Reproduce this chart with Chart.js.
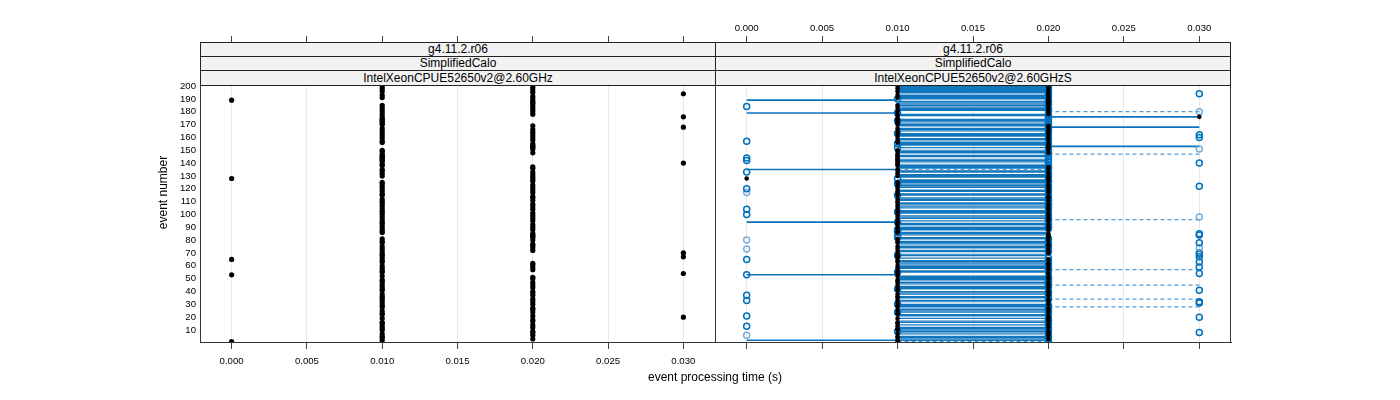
<!DOCTYPE html>
<html>
<head>
<meta charset="utf-8">
<script src="https://cdn.jsdelivr.net/npm/chart.js"></script>
<style>
  html, body { margin:0; padding:0; background:#fff; }
  #root { position:relative; width:1400px; height:400px; overflow:hidden; font-family:'Liberation Sans', Arial, Helvetica, sans-serif; }
  canvas { position:absolute; top:0; }
  .strip { position:absolute; box-sizing:border-box; border:1px solid #222; background:#f2f2f2;
           text-align:center; font-size:12px; color:#000; white-space:nowrap; z-index:5; }
  .xtitle { position:absolute; left:0; width:1430px; top:370px; text-align:center; font-size:12px; color:#000; }
</style>
</head>
<body>
<div id="root">
  <canvas id="left" width="720" height="400" style="left:0"></canvas>
  <canvas id="right" width="700" height="400" style="left:700px"></canvas>

  <div class="strip" style="left:200px;top:42px;width:516px;height:15px;line-height:13px">g4.11.2.r06</div>
  <div class="strip" style="left:200px;top:56px;width:516px;height:15px;line-height:13px">SimplifiedCalo</div>
  <div class="strip" style="left:200px;top:70px;width:516px;height:16px;line-height:14px">IntelXeonCPUE52650v2@2.60GHz</div>

  <div class="strip" style="left:715px;top:42px;width:516px;height:15px;line-height:13px">g4.11.2.r06</div>
  <div class="strip" style="left:715px;top:56px;width:516px;height:15px;line-height:13px">SimplifiedCalo</div>
  <div class="strip" style="left:715px;top:70px;width:516px;height:16px;line-height:14px">IntelXeonCPUE52650v2@2.60GHzS</div>

  <div class="xtitle">event processing time (s)</div>
</div>
<script>
// ---------------- data ----------------
const xTicks = [0, 0.005, 0.01, 0.015, 0.02, 0.025, 0.03];
const yTicks = [10, 20, 30, 40, 50, 60, 70, 80, 90, 100, 110, 120, 130, 140, 150, 160, 170, 180, 190, 200];

// reference run: event processing time (s) for events 1..200 (left panel, black dots)
const refTime = [
  0, 0.01, 0.02, 0.01, 0.01, 0.02, 0.01, 0.02, 0.02, 0.01,
  0.01, 0.02, 0.01, 0.02, 0.01, 0.01, 0.02, 0.02, 0.01, 0.03,
  0.02, 0.01, 0.01, 0.02, 0.01, 0.02, 0.02, 0.01, 0.01, 0.02,
  0.01, 0.02, 0.01, 0.02, 0.01, 0.01, 0.02, 0.01, 0.02, 0.02,
  0.01, 0.01, 0.02, 0.01, 0.02, 0.01, 0.02, 0.01, 0.01, 0.02,
  0.02, 0.01, 0, 0.03, 0.01, 0.01, 0.02, 0.01, 0.02, 0.01,
  0.02, 0.02, 0.01, 0.01, 0, 0.01, 0.03, 0.01, 0.01, 0.03,
  0.01, 0.02, 0.01, 0.02, 0.01, 0.02, 0.02, 0.01, 0.01, 0.02,
  0.01, 0.02, 0.02, 0.02, 0.02, 0.01, 0.01, 0.02, 0.01, 0.02,
  0.01, 0.02, 0.01, 0.01, 0.02, 0.01, 0.02, 0.01, 0.02, 0.01,
  0.02, 0.01, 0.01, 0.02, 0.01, 0.02, 0.01, 0.02, 0.01, 0.01,
  0.02, 0.01, 0.02, 0.02, 0.01, 0.01, 0.02, 0.01, 0.02, 0.01,
  0.02, 0.01, 0.02, 0.01, 0.01, 0.02, 0.02, 0, 0.02, 0.01,
  0.02, 0.01, 0.02, 0.01, 0.01, 0.02, 0.02, 0.01, 0.01, 0.03,
  0.01, 0.01, 0.01, 0.01, 0.01, 0.01, 0.01, 0.02, 0.01, 0.01,
  0.02, 0.02, 0.02, 0.02, 0.02, 0.01, 0.01, 0.02, 0.01, 0.02,
  0.01, 0.02, 0.01, 0.02, 0.01, 0.02, 0.01, 0.03, 0.02, 0.01,
  0.01, 0.01, 0.01, 0.01, 0.01, 0.03, 0.01, 0.02, 0.01, 0.02,
  0.01, 0.02, 0.01, 0.02, 0.01, 0.02, 0.02, 0.02, 0, 0.02,
  0.01, 0.02, 0.01, 0.03, 0.02, 0.01, 0.02, 0.01, 0.02, 0.01
];

// right panel reference dots (black), events 1..200
const rightRefTime = [
  0.01, 0.01, 0.02, 0.01, 0.01, 0.02, 0.01, 0.02, 0.02, 0.01,
  0.01, 0.02, 0.01, 0.02, 0.01, 0.01, 0.02, 0.02, 0.01, 0.02,
  0.02, 0.01, 0.01, 0.02, 0.01, 0.02, 0.02, 0.01, 0.01, 0.02,
  0.01, 0.02, 0.01, 0.02, 0.01, 0.01, 0.02, 0.01, 0.02, 0.02,
  0.01, 0.01, 0.02, 0.01, 0.02, 0.01, 0.02, 0.01, 0.01, 0.02,
  0.02, 0.01, 0.01, 0.02, 0.01, 0.01, 0.02, 0.01, 0.02, 0.01,
  0.02, 0.02, 0.01, 0.01, 0.02, 0.01, 0.01, 0.01, 0.01, 0.02,
  0.01, 0.02, 0.01, 0.02, 0.01, 0.02, 0.02, 0.01, 0.01, 0.02,
  0.01, 0.02, 0.02, 0.02, 0.02, 0.01, 0.01, 0.02, 0.01, 0.02,
  0.01, 0.02, 0.01, 0.01, 0.02, 0.01, 0.02, 0.01, 0.02, 0.01,
  0.02, 0.01, 0.01, 0.02, 0.01, 0.02, 0.01, 0.02, 0.01, 0.01,
  0.02, 0.01, 0.02, 0.02, 0.01, 0.01, 0.02, 0.01, 0.02, 0.01,
  0.02, 0.01, 0.02, 0.01, 0.01, 0.02, 0.02, 0, 0.02, 0.01,
  0.02, 0.01, 0.02, 0.01, 0.01, 0.02, 0.02, 0.01, 0.01, 0.01,
  0.01, 0.01, 0.01, 0.01, 0.01, 0.01, 0.01, 0.02, 0.01, 0.01,
  0.02, 0.02, 0.02, 0.02, 0.02, 0.01, 0.01, 0.02, 0.01, 0.02,
  0.01, 0.02, 0.01, 0.02, 0.01, 0.02, 0.01, 0.02, 0.02, 0.01,
  0.01, 0.01, 0.01, 0.01, 0.01, 0.03, 0.01, 0.02, 0.01, 0.02,
  0.01, 0.02, 0.01, 0.02, 0.01, 0.02, 0.02, 0.02, 0.02, 0.02,
  0.01, 0.02, 0.01, 0.02, 0.02, 0.01, 0.02, 0.01, 0.02, 0.01
];

// compared run (right panel, open blue circles)
const newTime = [
  0.02, 0.02, 0.02, 0.02, 0.02, 0, 0.02, 0.03, 0.01, 0.02,
  0.02, 0.02, 0, 0.02, 0.02, 0.02, 0.02, 0.02, 0.02, 0.03,
  0, 0.02, 0.02, 0.01, 0.02, 0.02, 0.02, 0.02, 0.02, 0.01,
  0.03, 0.03, 0, 0.02, 0.02, 0.02, 0, 0.02, 0.02, 0.02,
  0.03, 0.01, 0.02, 0.02, 0.02, 0.02, 0.02, 0.02, 0.02, 0.02,
  0.02, 0.02, 0, 0.03, 0.01, 0.02, 0.02, 0.02, 0.03, 0.02,
  0.02, 0.02, 0.03, 0.02, 0, 0.02, 0.03, 0.01, 0.03, 0.03,
  0.02, 0.02, 0, 0.03, 0.02, 0.02, 0.02, 0.03, 0.02, 0,
  0.02, 0.01, 0.01, 0.03, 0.03, 0.01, 0.01, 0.01, 0.02, 0.02,
  0.02, 0.02, 0.02, 0.01, 0.02, 0.02, 0.02, 0.03, 0.02, 0,
  0.02, 0.01, 0.02, 0, 0.02, 0.02, 0.02, 0.02, 0.02, 0.02,
  0.02, 0.02, 0.02, 0.02, 0.01, 0.02, 0, 0.02, 0.02, 0,
  0.02, 0.03, 0.02, 0.01, 0.02, 0.02, 0.02, 0.01, 0.02, 0.02,
  0.02, 0.02, 0, 0.02, 0.02, 0.02, 0.02, 0.02, 0.02, 0.03,
  0.02, 0, 0.02, 0, 0.02, 0.02, 0.02, 0.02, 0.02, 0.02,
  0.03, 0.01, 0.02, 0.02, 0.01, 0.02, 0, 0.02, 0.02, 0.03,
  0.02, 0.03, 0.01, 0.02, 0.02, 0.02, 0.02, 0.02, 0.02, 0.02,
  0.02, 0.02, 0.01, 0.02, 0.02, 0.02, 0.02, 0.02, 0.01, 0.03,
  0.02, 0.02, 0.02, 0, 0.02, 0.02, 0.02, 0.02, 0.02, 0.01,
  0.02, 0.02, 0.02, 0.03, 0.02, 0.02, 0.02, 0.02, 0.02, 0.02
];
const faintEvents = [6, 73, 74, 80, 98, 117, 151, 180];

// change segments (right panel)
const midFrom = 0.01, midTo = 0.02;
const midSegEvents = [3,4,5,7,9,10,11,12,14,16,17,19,21,22,24,25,26,28,29,30,32,33,35,36,38,39,40,42,43,44,46,47,49,50,51,52,55,56,58,59,60,62,63,64,66,68,69,71,72,74,75,77,78,79,81,82,84,85,86,88,89,90,92,93,95,97,98,99,101,102,103,105,106,108,109,111,112,113,115,116,118,119,121,122,123,125,126,127,129,130,131,133,134,136,137,138,141,142,143,145,146,148,149,150,152,154,155,156,158,159,161,162,163,165,166,167,169,170,172,173,174,177,178,181,182,183,185,186,187,188,190,191,192,193,195,196,197,198,199,200];
const lightSegEvents = [8, 27, 48, 61, 76, 91, 107, 124, 139, 157, 171, 184, 194];
const longSegEvents = [189, 179, 135, 94, 53, 2, 176, 168, 153];
const longSegFrom   = [0, 0, 0, 0, 0, 0, 0.02, 0.02, 0.02];
const longSegTo     = [0.01, 0.01, 0.01, 0.01, 0.01, 0.02, 0.03, 0.03, 0.03];
const dashSegEvents = [180, 147, 96, 57, 45, 34, 28, 135, 1];
const dashSegFrom   = [0.02, 0.02, 0.02, 0.02, 0.02, 0.02, 0.02, 0.01, 0.01];
const dashSegTo     = [0.03, 0.03, 0.03, 0.03, 0.03, 0.03, 0.03, 0.02, 0.02];

// ---------------- helpers ----------------
const FONT = "'Liberation Sans', Arial, Helvetica, sans-serif";
Chart.defaults.font.family = FONT;
Chart.defaults.color = '#000';

const xMin = -0.0021, xMax = 0.0321, yMin = -0.12, yMax = 234.3;
const eventNo = refTime.map((_, i) => i + 1);
const pts = (times) => times.map((t, i) => ({x: t, y: eventNo[i]}));
function segs(evts, from, to) {
  const out = [];
  evts.forEach((e, i) => {
    const f = Array.isArray(from) ? from[i] : from;
    const t = Array.isArray(to) ? to[i] : to;
    out.push({x: f, y: e}, {x: t, y: e}, {x: null, y: null});
  });
  return out;
}
const setXTicks = s => { s.ticks = xTicks.map(v => ({value: v})); };
const setYTicks = s => { s.ticks = yTicks.map(v => ({value: v})); };

const panelBorder = {
  id: 'panelBorder',
  afterDraw(chart, args, o) {
    const {ctx, chartArea: a} = chart;
    ctx.save();
    ctx.strokeStyle = '#333';
    ctx.lineWidth = 1;
    ctx.beginPath();
    if (o.left)  { ctx.moveTo(a.left + 0.5, a.top); ctx.lineTo(a.left + 0.5, a.bottom); }
    if (o.right) { const xr = o.rightInside ? a.right - 0.5 : a.right + 0.5; ctx.moveTo(xr, a.top); ctx.lineTo(xr, a.bottom); }
    ctx.moveTo(a.left, a.bottom - 0.5); ctx.lineTo(a.right + 1, a.bottom - 0.5);
    ctx.stroke();
    ctx.restore();
  }
};

function xAxes(bottomLabels, topLabels) {
  return {
    x: {
      type: 'linear', position: 'bottom', min: xMin, max: xMax,
      afterBuildTicks: setXTicks,
      afterFit: s => { s.height = 25; },
      ticks: { display: bottomLabels, autoSkip: false, maxRotation: 0, padding: 7,
               font: {size: 9.6}, color: '#000', callback: v => Number(v).toFixed(3) },
      grid: { color: '#e8e8e8', lineWidth: 1, drawTicks: true, tickLength: 6, tickColor: '#444' },
      border: { display: false }
    },
    xTop: {
      type: 'linear', axis: 'x', position: 'top', min: xMin, max: xMax,
      afterBuildTicks: setXTicks,
      afterFit: s => { s.height = 21; },
      ticks: { display: topLabels, autoSkip: false, maxRotation: 0, padding: 2,
               font: {size: 9.6}, color: '#000', callback: v => Number(v).toFixed(3) },
      grid: { drawOnChartArea: false, drawTicks: true, tickLength: 6, tickColor: '#444' },
      border: { display: false }
    }
  };
}

const common = {
  responsive: false,
  devicePixelRatio: 1,
  animation: false,
  events: [],
  plugins: { legend: {display: false}, tooltip: {enabled: false} }
};

// ---------------- left panel ----------------
new Chart(document.getElementById('left'), {
  type: 'scatter',
  data: {
    datasets: [{
      data: pts(refTime),
      pointRadius: 2.6, pointBorderWidth: 0,
      backgroundColor: '#000', borderColor: '#000'
    }]
  },
  options: Object.assign({}, common, {
    layout: { padding: {left: 152, right: 5, top: 21, bottom: 32} },
    scales: Object.assign(xAxes(true, false), {
      y: {
        type: 'linear', min: yMin, max: yMax,
        afterBuildTicks: setYTicks,
        afterFit: s => { s.width = 48; },
        ticks: { autoSkip: false, padding: 4, font: {size: 9.6}, color: '#000' },
        grid: { display: false, drawTicks: false },
        border: { display: false },
        title: { display: true, text: 'event number', font: {size: 12}, color: '#000', padding: {top: 4, bottom: 4} }
      }
    }),
    plugins: Object.assign({}, common.plugins, { panelBorder: {left: true, right: true, rightInside: false} })
  }),
  plugins: [panelBorder]
});

// ---------------- right panel ----------------
const BLUE = 'rgb(0,114,189)';
new Chart(document.getElementById('right'), {
  type: 'scatter',
  data: {
    datasets: [
      { // reference dots (top-most)
        data: pts(rightRefTime),
        pointRadius: 2.3, pointBorderWidth: 0,
        backgroundColor: '#000', borderColor: '#000'
      },
      { // compared run circles
        data: pts(newTime),
        pointRadius: 3, pointBorderWidth: 1.5,
        backgroundColor: 'rgba(0,0,0,0)',
        borderColor: ctx => (ctx.raw && faintEvents.includes(ctx.raw.y)) ? 'rgba(100,160,210,0.85)' : BLUE
      },
      { // dashed change segments
        data: segs(dashSegEvents, dashSegFrom, dashSegTo),
        showLine: true, spanGaps: false, pointRadius: 0,
        borderColor: 'rgba(40,130,200,0.8)', borderWidth: 1.2, borderDash: [4, 3]
      },
      { // long solid segments
        data: segs(longSegEvents, longSegFrom, longSegTo),
        showLine: true, spanGaps: false, pointRadius: 0,
        borderColor: 'rgb(10,115,188)', borderWidth: 1.6
      },
      { // lighter change segments between 0.01 and 0.02
        data: segs(lightSegEvents, midFrom, midTo),
        showLine: true, spanGaps: false, pointRadius: 0,
        borderColor: 'rgb(110,170,215)', borderWidth: 1.2
      },
      { // dense block of change segments between 0.01 and 0.02
        data: segs(midSegEvents, midFrom, midTo),
        showLine: true, spanGaps: false, pointRadius: 0,
        borderColor: 'rgb(18,118,190)', borderWidth: 1.2
      }
    ]
  },
  options: Object.assign({}, common, {
    layout: { padding: {left: 15, right: 169, top: 21, bottom: 32} },
    scales: Object.assign(xAxes(false, true), {
      y: { type: 'linear', min: yMin, max: yMax, display: false }
    }),
    plugins: Object.assign({}, common.plugins, { panelBorder: {left: false, right: true, rightInside: true} })
  }),
  plugins: [panelBorder]
});
</script>
</body>
</html>
